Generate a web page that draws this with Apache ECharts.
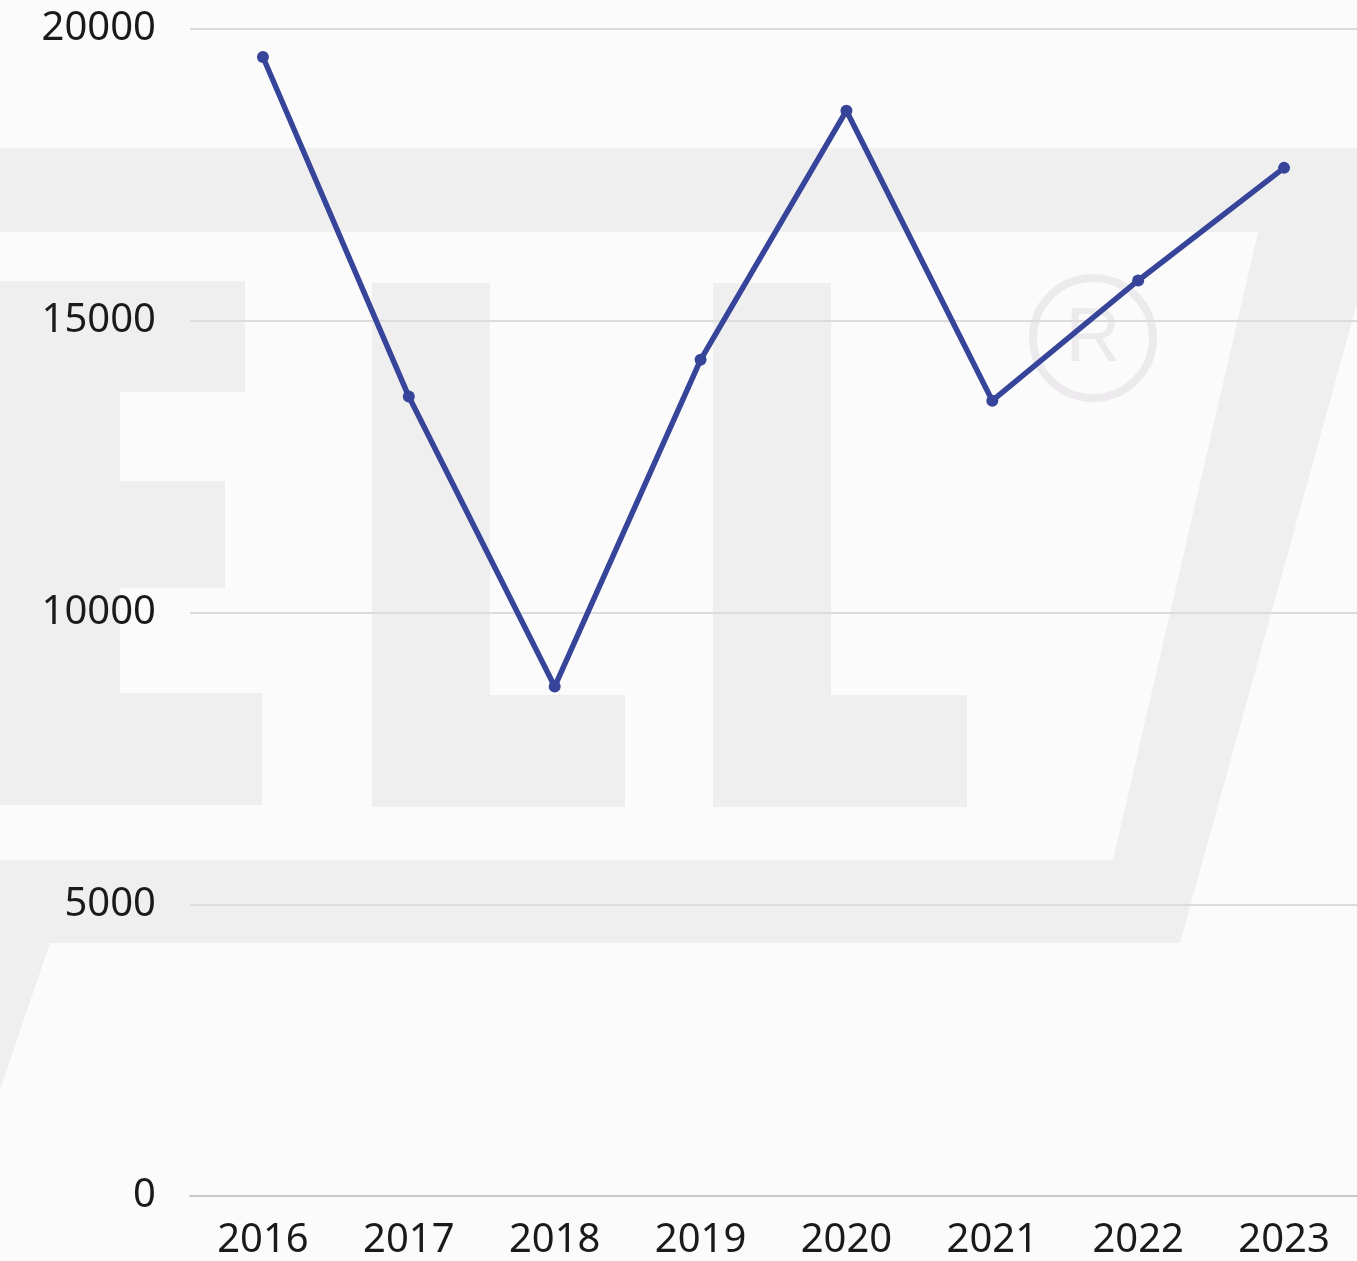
<!DOCTYPE html>
<html>
<head>
<meta charset="utf-8">
<script src="https://cdn.jsdelivr.net/npm/echarts@6/dist/echarts.min.js"></script>
<style>
  html, body { margin: 0; padding: 0; background: #fcfbfc; }
  #chart { width: 1357px; height: 1261px; }
</style>
</head>
<body>
<div id="chart"></div>
<script>
  // data
  var years = ['2016', '2017', '2018', '2019', '2020', '2021', '2022', '2023'];
  var values = [19520, 13700, 8730, 14330, 18600, 13630, 15690, 17620];
  var yTicks = [0, 5000, 10000, 15000, 20000];

  var wm = '#f0eff0';
  var myChart = echarts.init(document.getElementById('chart'));

  // faint logo watermark behind the plot
  var watermark = [
    { type: 'polygon', shape: { points: [[0, 148], [1400, 148], [1180, 943], [50, 943], [0, 1090], [0, 860], [1113, 860], [1258, 232], [0, 232]] } },
    { type: 'rect', shape: { x: 0, y: 281, width: 120, height: 524 } },
    { type: 'rect', shape: { x: 0, y: 281, width: 245, height: 111 } },
    { type: 'rect', shape: { x: 120, y: 481, width: 105, height: 107 } },
    { type: 'rect', shape: { x: 120, y: 693, width: 142, height: 112 } },
    { type: 'rect', shape: { x: 372, y: 283, width: 118, height: 524 } },
    { type: 'rect', shape: { x: 490, y: 695, width: 135, height: 112 } },
    { type: 'rect', shape: { x: 713, y: 283, width: 118, height: 524 } },
    { type: 'rect', shape: { x: 831, y: 695, width: 136, height: 112 } },
    { type: 'circle', shape: { cx: 1093, cy: 338, r: 60 }, style: { fill: 'none', stroke: '#eceaec', lineWidth: 8 } },
    { type: 'text', x: 1093, y: 340, style: { text: 'R', fill: '#eceaec', font: '76px "Liberation Sans"', align: 'center', verticalAlign: 'middle' } }
  ];
  watermark.forEach(function (g) {
    g.z = -10;
    g.silent = true;
    if (!g.style) g.style = { fill: wm };
  });

  var option = {
    backgroundColor: '#fcfbfc',
    animation: false,
    graphic: watermark,
    grid: { left: 190, right: 0, top: 29, bottom: 64 },
    xAxis: {
      type: 'category',
      data: years,
      boundaryGap: true,
      axisTick: { show: false },
      axisLine: { lineStyle: { color: '#c8c8c8', width: 2 } },
      axisLabel: { color: '#1a1a1a', fontSize: 40, fontFamily: 'Noto Sans', margin: 25 }
    },
    yAxis: {
      type: 'value',
      min: yTicks[0],
      max: yTicks[yTicks.length - 1],
      interval: 5000,
      axisLine: { show: false },
      axisTick: { show: false },
      splitLine: { lineStyle: { color: '#dcdcdc', width: 2 } },
      axisLabel: {
        color: '#1a1a1a', fontSize: 40, fontFamily: 'Noto Sans', margin: 34,
        formatter: function (v) { return String(v); }
      }
    },
    series: [{
      type: 'line',
      data: values,
      symbol: 'circle',
      symbolSize: 12,
      lineStyle: { color: '#36459a', width: 5.5 },
      itemStyle: { color: '#36459a' }
    }]
  };
  myChart.setOption(option);
</script>
</body>
</html>
